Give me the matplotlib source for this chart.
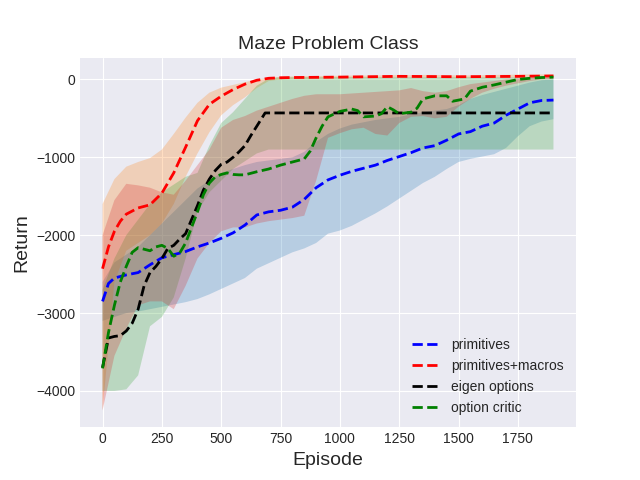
import numpy as np
import matplotlib
matplotlib.use('Agg')
import matplotlib.pyplot as plt

plt.style.use('seaborn-v0_8-darkgrid')

# shared episode grid for the shaded bands
band_x = [0, 50, 100, 150, 200, 250, 300, 350, 400, 450, 500, 550, 600, 650, 700,
          750, 800, 850, 900, 950, 1000, 1050, 1100, 1150, 1200, 1250, 1300, 1350,
          1400, 1450, 1500, 1550, 1600, 1650, 1700, 1750, 1800, 1850, 1900]

# primitives
prim_x = [0, 25, 50, 100, 150, 200, 250, 300, 350, 400, 450, 500, 550, 600, 650, 700,
          750, 800, 850, 900, 950, 1000, 1050, 1100, 1150, 1200, 1250, 1300, 1350,
          1400, 1450, 1500, 1550, 1600, 1650, 1700, 1750, 1800, 1850, 1900]
prim_mean = [-2850, -2620, -2550, -2510, -2480, -2380, -2290, -2250, -2210, -2150, -2100,
             -2040, -1970, -1870, -1740, -1700, -1680, -1640, -1540, -1390, -1290, -1230,
             -1180, -1140, -1100, -1040, -990, -940, -880, -850, -780, -700, -670, -600,
             -560, -460, -380, -300, -270, -265]
prim_low = [-3100, -3050, -3000, -2980, -2950, -2920, -2890, -2860, -2820, -2760, -2690,
            -2620, -2550, -2430, -2360, -2290, -2220, -2170, -2100, -1980, -1940, -1880,
            -1800, -1720, -1630, -1530, -1430, -1330, -1250, -1150, -1060, -1020, -990,
            -960, -880, -730, -600, -540, -510]
prim_high = [-2600, -2350, -2250, -2150, -2000, -1850, -1700, -1550, -1400, -1300, -1200,
             -1150, -1100, -1060, -1040, -1020, -1000, -930, -800, -700, -630, -580, -550,
             -520, -500, -480, -450, -420, -400, -380, -330, -250, -200, -160, -120, -80,
             -40, -10, 0]

# primitives + macros
macro_x = [0, 25, 50, 75, 100, 150, 200, 250, 300, 350, 400, 450, 500, 550, 600, 650,
           700, 750, 800, 1000, 1250, 1500, 1750, 1900]
macro_mean = [-2430, -2150, -1950, -1820, -1730, -1650, -1610, -1460, -1200, -870, -530,
              -320, -215, -130, -60, -10, 15, 22, 25, 30, 40, 35, 40, 45]
macro_low = [-4250, -2600, -2200, -2100, -2000, -1850, -1600, -1250, -950, -680, -460,
             -330, -230, -110, -20, 0, 5, 8, 10, 12, 15, 18, 20, 20, 22, 25, 25, 25, 25,
             22, 20, 20, 22, 25, 25, 28, 30, 30, 32]
macro_high = [-1600, -1280, -1120, -1060, -1010, -900, -700, -490, -300, -170, -105, -70,
              -35, 0, 20, 35, 40, 42, 45, 45, 48, 50, 50, 52, 55, 55, 55, 58, 58, 55, 52,
              52, 55, 58, 60, 62, 65, 65, 65]

# eigen options
eigen_x = [0, 25, 50, 75, 100, 125, 150, 175, 200, 225, 250, 275, 300, 325, 350, 375,
           400, 425, 450, 475, 500, 525, 550, 575, 600, 625, 650, 685, 1900]
eigen_mean = [-3700, -3320, -3300, -3290, -3230, -3130, -2950, -2650, -2480, -2400, -2300,
              -2170, -2130, -2050, -1980, -1800, -1620, -1420, -1280, -1170, -1090, -1060,
              -1000, -930, -850, -720, -600, -430, -430]
eigen_low = [-4000, -4000, -3980, -3800, -3170, -3050, -2800, -2300, -1700, -1450, -1300,
             -1150, -1050, -950, -900, -900, -900, -900, -900, -900, -900, -900, -900,
             -900, -900, -900, -900, -900, -900, -900, -900, -900, -900, -900, -900, -900,
             -900, -900, -900]
eigen_high = [-2700, -2300, -2000, -1800, -1600, -1450, -1350, -1250, -1200, -850, -560,
              -420, -250, -80, 10, 30, 30, 30, 30, 30, 30, 30, 30, 30, 30, 30, 30, 30, 30,
              30, 30, 30, 30, 30, 30, 30, 30, 30, 30]

# option critic
oc_x = [0, 25, 50, 75, 100, 125, 150, 175, 200, 225, 250, 275, 300, 325, 350, 375, 400,
        425, 450, 475, 500, 525, 550, 575, 600, 650, 700, 750, 800, 850, 875, 900, 925,
        950, 1000, 1050, 1075, 1100, 1150, 1175, 1200, 1225, 1250, 1300, 1325, 1350, 1400,
        1450, 1475, 1525, 1550, 1600, 1650, 1700, 1750, 1800, 1850, 1900]
oc_mean = [-3710, -3250, -2900, -2600, -2400, -2220, -2160, -2180, -2200, -2150, -2130,
           -2170, -2270, -2230, -2100, -1900, -1700, -1480, -1330, -1250, -1220, -1200,
           -1220, -1225, -1225, -1185, -1150, -1100, -1060, -1020, -920, -750, -600, -480,
           -410, -380, -400, -480, -470, -440, -350, -390, -440, -420, -370, -250, -210,
           -210, -280, -250, -150, -100, -70, -35, 0, 15, 25, 30]
oc_low = [-4250, -3550, -3200, -2900, -2850, -2850, -2950, -2650, -2300, -2100, -1950,
          -1900, -1900, -1850, -1820, -1800, -1780, -1750, -1300, -750, -690, -640, -620,
          -700, -720, -560, -480, -470, -500, -480, -350, -250, -170, -120, -80, -50, -20,
          0, 10]
oc_high = [-2000, -1550, -1340, -1360, -1390, -1450, -1480, -1300, -1100, -900, -620, -520,
           -470, -400, -350, -300, -250, -210, -190, -190, -190, -180, -170, -160, -150,
           -140, -110, -150, -170, -150, -100, -60, -40, -20, 0, 10, 20, 25, 30]

plt.figure(figsize=(6.4, 4.8))

plt.plot(prim_x, prim_mean, 'b--', linewidth=2, label='primitives')
plt.fill_between(band_x, prim_low, prim_high, alpha=0.25, linewidth=0)

plt.plot(macro_x, macro_mean, 'r--', linewidth=2, label='primitives+macros')
plt.fill_between(band_x, macro_low, macro_high, alpha=0.25, linewidth=0)

plt.plot(eigen_x, eigen_mean, 'k--', linewidth=2, label='eigen options')
plt.fill_between(band_x, eigen_low, eigen_high, alpha=0.25, linewidth=0)

plt.plot(oc_x, oc_mean, 'g--', linewidth=2, label='option critic')
plt.fill_between(band_x, oc_low, oc_high, alpha=0.25, linewidth=0)

plt.title('Maze Problem Class', fontsize=14)
plt.xlabel('Episode', fontsize=14)
plt.ylabel('Return', fontsize=14)
plt.legend(loc='lower right')

plt.savefig('out.png')
